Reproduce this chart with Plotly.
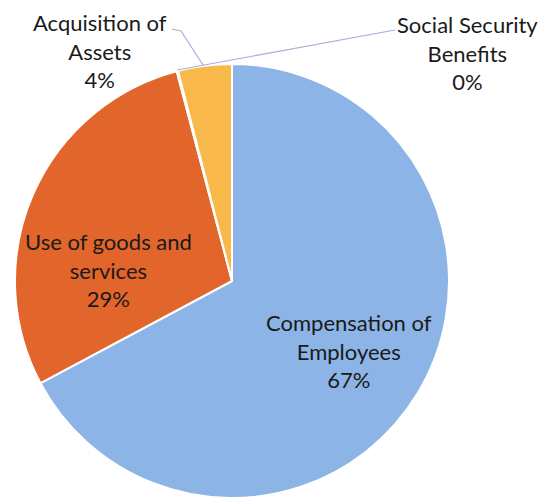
import plotly.graph_objects as go

categories = ["Compensation of<br>Employees", "Use of goods and<br>services",
              "Social Security<br>Benefits", "Acquisition of<br>Assets"]
values = [67.2, 28.7, 0.1, 4.0]
colors = ["#8DB4E6", "#E2652C", "#F4A23A", "#F9B94A"]

W, H = 539, 500
cx, cy, r = 232, 281, 217

fig = go.Figure()
fig.add_trace(go.Pie(
    labels=categories, values=values, sort=False, direction="clockwise",
    marker=dict(colors=colors, line=dict(color="white", width=2)),
    textinfo="none",
    hoverinfo="skip",
    showlegend=False,
    domain=dict(x=[(cx - r) / W, (cx + r) / W], y=[1 - (cy + r) / H, 1 - (cy - r) / H]),
))

total = sum(values)
def px(x, y):
    return x / W, 1 - y / H

# label centres (pixels)
label_pos = [(349, 351), (108, 270), (467, 53), (100, 51)]
for idx, (tx, ty) in enumerate(label_pos):
    x, y = px(tx, ty)
    pct = round(values[idx] / total * 100)
    fig.add_annotation(x=x, y=y, xref="paper", yref="paper", showarrow=False,
                       xanchor="center", yanchor="middle",
                       text=f"{categories[idx]}<br>{pct}%",
                       font=dict(family="Lato", size=22, color="#1a1a1a"),
                       align="center")

leader = [[(172, 29), (181, 31), (203, 65)], [(395, 30), (177, 70)]]
for pts in leader:
    for (x0, y0), (x1, y1) in zip(pts[:-1], pts[1:]):
        a, b = px(x0, y0)
        c, d = px(x1, y1)
        fig.add_shape(type="line", xref="paper", yref="paper", x0=a, y0=b, x1=c, y1=d,
                      line=dict(color="#A3AFD8", width=1.2))

fig.update_layout(width=W, height=H, margin=dict(l=0, r=0, t=0, b=0),
                  paper_bgcolor="white", plot_bgcolor="white")
fig.write_html("out.html")
